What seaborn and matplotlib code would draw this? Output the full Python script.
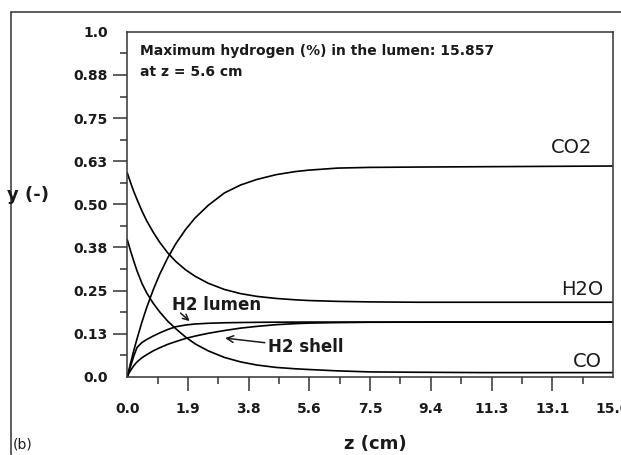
import matplotlib
matplotlib.use("Agg")
import matplotlib.pyplot as plt
from matplotlib.lines import Line2D
from matplotlib.ticker import FixedLocator
import seaborn as sns
import pandas as pd

# Axial positions along the membrane reactor (cm)
z = [0, 0.05, 0.1, 0.2, 0.3, 0.45, 0.6, 0.8, 1.0, 1.25, 1.5, 1.8, 2.1, 2.5,
     3.0, 3.5, 4.0, 4.6, 5.2, 5.6, 6.5, 7.5, 9.0, 11.0, 13.0, 15.0]

# Mole fractions of each species
co2 = [0, 0.02, 0.039, 0.076, 0.11, 0.158, 0.201, 0.252, 0.297, 0.345, 0.386,
       0.427, 0.461, 0.497, 0.533, 0.556, 0.572, 0.586, 0.595, 0.599, 0.605,
       0.607, 0.608, 0.609, 0.61, 0.611]
h2o = [0.591, 0.577, 0.563, 0.537, 0.514, 0.481, 0.452, 0.419, 0.39, 0.359,
       0.334, 0.31, 0.291, 0.271, 0.253, 0.241, 0.233, 0.227, 0.223, 0.221,
       0.2185, 0.217, 0.216, 0.216, 0.216, 0.216]
co = [0.397, 0.381, 0.365, 0.335, 0.307, 0.271, 0.243, 0.213, 0.188, 0.161,
      0.139, 0.115, 0.095, 0.075, 0.056, 0.043, 0.034, 0.027, 0.023, 0.021,
      0.017, 0.014, 0.013, 0.012, 0.012, 0.012]
h2_lumen = [0, 0.015, 0.03, 0.06, 0.085, 0.099, 0.108, 0.118, 0.127, 0.137,
            0.145, 0.150, 0.153, 0.155, 0.1565, 0.1572, 0.1578, 0.1582, 0.1584,
            0.15857, 0.1585, 0.1585, 0.1585, 0.1585, 0.1585, 0.1585]
h2_shell = [0, 0.01, 0.018, 0.032, 0.043, 0.055, 0.064, 0.075, 0.084, 0.094,
            0.102, 0.111, 0.118, 0.126, 0.134, 0.141, 0.146, 0.151, 0.154, 0.1555,
            0.157, 0.158, 0.1583, 0.1585, 0.1585, 0.1585]

max_h2_pct = 15.857
max_h2_z = 5.6

x_ticks = [0, 1.875, 3.75, 5.625, 7.5, 9.375, 11.25, 13.125, 15.0]
x_tick_labels = ["0.0", "1.9", "3.8", "5.6", "7.5", "9.4", "11.3", "13.1", "15.0"]
y_ticks = [0, 0.125, 0.25, 0.375, 0.5, 0.625, 0.75, 0.875, 1.0]
y_tick_labels = ["0.0", "0.13", "0.25", "0.38", "0.50", "0.63", "0.75", "0.88", "1.0"]

sns.set_style("ticks")
plt.rcParams["font.family"] = ["DejaVu Sans"]

ink = "#1a1a1a"
frame = "#333333"

fig = plt.figure(figsize=(6.21, 4.55), dpi=100)
ax = fig.add_axes([0.205, 0.172, 0.782, 0.758])

series = {"CO2": co2, "H2O": h2o, "CO": co, "H2 lumen": h2_lumen, "H2 shell": h2_shell}
for name, vals in series.items():
    df = pd.DataFrame({"z": z, "y": vals})
    sns.lineplot(data=df, x="z", y="y", color="black", linewidth=1.2, ax=ax,
                 estimator=None, sort=True)

ax.set_xlim(0, 15)
ax.set_ylim(0, 1)
ax.set_xlabel("")
ax.set_ylabel("")

ax.xaxis.set_major_locator(FixedLocator(x_ticks))
ax.set_xticklabels(x_tick_labels)
ax.yaxis.set_major_locator(FixedLocator(y_ticks))
ax.set_yticklabels(y_tick_labels)
x_minor = [(a + b) / 2 for a, b in zip(x_ticks[:-1], x_ticks[1:])]
y_minor = [(a + b) / 2 for a, b in zip(y_ticks[:-1], y_ticks[1:])]
ax.xaxis.set_minor_locator(FixedLocator(x_minor))
ax.yaxis.set_minor_locator(FixedLocator(y_minor))

ax.tick_params(axis="both", which="major", direction="out", length=10, width=1.1,
               color=frame, labelsize=10, labelcolor=ink)
ax.tick_params(axis="both", which="minor", direction="out", length=5, width=1.1,
               color=frame)
ax.tick_params(axis="x", which="major", pad=8)
ax.tick_params(axis="y", which="major", pad=4)
for lab in ax.get_xticklabels() + ax.get_yticklabels():
    lab.set_fontweight("bold")
# No tick marks at the corners of the box
for t in (ax.xaxis.get_major_ticks()[0], ax.xaxis.get_major_ticks()[-1],
          ax.yaxis.get_major_ticks()[0], ax.yaxis.get_major_ticks()[-1]):
    t.tick1line.set_visible(False)

for side in ("left", "right", "top", "bottom"):
    ax.spines[side].set_visible(True)
    ax.spines[side].set_color(frame)
    ax.spines[side].set_linewidth(1.1)

# Species labels
ax.text(13.73, 0.665, "CO2", fontsize=14, ha="center", va="center", color=ink)
ax.text(14.06, 0.252, "H2O", fontsize=14, ha="center", va="center", color=ink)
ax.text(14.2, 0.044, "CO", fontsize=14, ha="center", va="center", color=ink)

ax.text(2.76, 0.208, "H2 lumen", fontsize=12, fontweight="bold", ha="center",
        va="center", color=ink)
ax.annotate("", xy=(1.99, 0.156), xytext=(1.58, 0.19),
            arrowprops=dict(arrowstyle="->", color=ink, lw=1.1, mutation_scale=10))
ax.annotate("H2 shell", xy=(3.02, 0.112), xytext=(4.35, 0.085),
            fontsize=12, fontweight="bold", ha="left", va="center", color=ink,
            arrowprops=dict(arrowstyle="->", color=ink, lw=1.1, mutation_scale=12,
                            shrinkA=0, shrinkB=0))

ax.text(0.026, 0.945, f"Maximum hydrogen (%) in the lumen: {max_h2_pct:.3f}",
        transform=ax.transAxes, fontsize=10, fontweight="bold", ha="left",
        va="center", color=ink)
ax.text(0.026, 0.883, f"at z = {max_h2_z} cm", transform=ax.transAxes,
        fontsize=10, fontweight="bold", ha="left", va="center", color=ink)

# Axis titles
fig.text(0.605, 0.024, "z (cm)", fontsize=13, fontweight="bold",
         ha="center", va="center", color=ink)
fig.text(0.045, 0.572, "y (-)", fontsize=13, fontweight="bold",
         ha="center", va="center", color=ink)
fig.text(0.021, 0.022, "(b)", fontsize=10, ha="left", va="center", color=ink)

# Outer panel border (top and left edges)
fig.add_artist(Line2D([0.0177, 1.0], [0.973, 0.973], transform=fig.transFigure,
                      color=frame, linewidth=1.1))
fig.add_artist(Line2D([0.0177, 0.0177], [0.0, 0.973], transform=fig.transFigure,
                      color=frame, linewidth=1.1))

fig.savefig("out.png", dpi=100, facecolor="white")
